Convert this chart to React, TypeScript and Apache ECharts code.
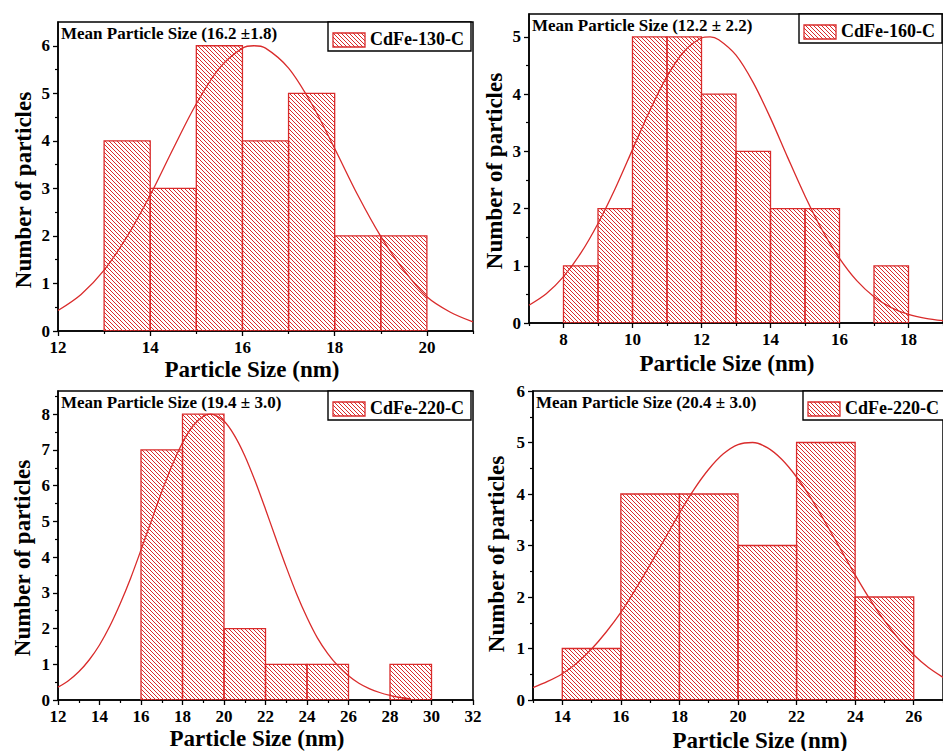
import React, { useEffect, useRef } from "react";
import * as echarts from "echarts";

const RED = "#d92b2b";
const FONT = '"Liberation Serif", "Times New Roman", serif';

// ---- CdFe-130-C ----
const edges130 = [13, 14, 15, 16, 17, 18, 19, 20];
const counts130 = [4, 3, 6, 4, 5, 2, 2];
const fitX130 = [12, 12.5, 13, 13.5, 14, 14.5, 15, 15.5, 16, 16.25, 16.5, 17, 17.5, 18, 18.5, 19, 19.5, 20, 20.5, 21];
const fitY130 = [0.43, 0.77, 1.28, 1.99, 2.86, 3.84, 4.78, 5.53, 5.95, 6.0, 5.95, 5.53, 4.78, 3.84, 2.86, 1.99, 1.28, 0.72, 0.4, 0.19];
const xTicks130 = [12, 14, 16, 18, 20];
const xMinor130 = [13, 15, 17, 19, 21];
const yTicks130 = [0, 1, 2, 3, 4, 5, 6];
const yMinor130 = [0.5, 1.5, 2.5, 3.5, 4.5, 5.5];

// ---- CdFe-160-C ----
const edges160 = [8, 9, 10, 11, 12, 13, 14, 15, 16, 17, 18];
const counts160 = [1, 2, 5, 5, 4, 3, 2, 2, 0, 1];
const fitX160 = [7, 7.5, 8, 8.5, 9, 9.5, 10, 10.5, 11, 11.5, 12, 12.25, 12.5, 13, 13.5, 14, 14.5, 15, 15.5, 16, 16.5, 17, 17.5, 18, 18.5, 19];
const fitY160 = [0.31, 0.51, 0.81, 1.22, 1.74, 2.35, 3.03, 3.71, 4.31, 4.75, 4.98, 5.0, 4.95, 4.68, 4.2, 3.58, 2.89, 2.22, 1.62, 1.13, 0.74, 0.46, 0.27, 0.15, 0.08, 0.04];
const xTicks160 = [8, 10, 12, 14, 16, 18];
const xMinor160 = [7, 9, 11, 13, 15, 17, 19];
const yTicks160 = [0, 1, 2, 3, 4, 5];
const yMinor160 = [0.5, 1.5, 2.5, 3.5, 4.5];

// ---- CdFe-220-C (first sample) ----
const edges220a = [16, 18, 20, 22, 24, 26, 28, 30];
const counts220a = [7, 8, 2, 1, 1, 0, 1];
const fitX220a = [12, 12.5, 13, 13.5, 14, 14.5, 15, 15.5, 16, 16.5, 17, 17.5, 18, 18.5, 19, 19.35, 19.5, 20, 20.5, 21, 21.5, 22, 22.5, 23, 23.5, 24, 24.5, 25, 25.5, 26, 26.5, 27, 27.5, 28, 28.5, 29];
const fitY220a = [0.36, 0.54, 0.79, 1.12, 1.54, 2.07, 2.7, 3.41, 4.2, 5.02, 5.83, 6.57, 7.2, 7.67, 7.94, 8.0, 7.99, 7.81, 7.41, 6.84, 6.13, 5.34, 4.52, 3.72, 2.97, 2.31, 1.74, 1.3, 0.95, 0.68, 0.47, 0.32, 0.21, 0.13, 0.07, 0.03];
const xTicks220a = [12, 14, 16, 18, 20, 22, 24, 26, 28, 30, 32];
const xMinor220a = [13, 15, 17, 19, 21, 23, 25, 27, 29, 31];
const yTicks220a = [0, 1, 2, 3, 4, 5, 6, 7, 8];
const yMinor220a = [0.5, 1.5, 2.5, 3.5, 4.5, 5.5, 6.5, 7.5, 8.5];

// ---- CdFe-220-C (second sample) ----
const edges220b = [14, 16, 18, 20, 22, 24, 26];
const counts220b = [1, 4, 4, 3, 5, 2];
const fitX220b = [13, 13.5, 14, 14.5, 15, 15.5, 16, 16.5, 17, 17.5, 18, 18.5, 19, 19.5, 20, 20.5, 21, 21.5, 22, 22.5, 23, 23.5, 24, 24.5, 25, 25.5, 26, 26.5, 27];
const fitY220b = [0.24, 0.36, 0.51, 0.72, 0.99, 1.32, 1.7, 2.15, 2.63, 3.13, 3.63, 4.09, 4.48, 4.78, 4.96, 5.0, 4.9, 4.67, 4.33, 3.91, 3.43, 2.93, 2.43, 1.96, 1.54, 1.18, 0.88, 0.63, 0.44];
const xTicks220b = [14, 16, 18, 20, 22, 24, 26];
const xMinor220b = [13, 15, 17, 19, 21, 23, 25, 27];
const yTicks220b = [0, 1, 2, 3, 4, 5, 6];
const yMinor220b = [0.5, 1.5, 2.5, 3.5, 4.5, 5.5];

const meanLabels = [
  "Mean Particle Size (16.2 \u00b11.8)",
  "Mean Particle Size (12.2 \u00b1 2.2)",
  "Mean Particle Size (19.4 \u00b1 3.0)",
  "Mean Particle Size (20.4 \u00b1 3.0)",
];
const sampleNames = ["CdFe-130-C", "CdFe-160-C", "CdFe-220-C", "CdFe-220-C"];
const xTitle = "Particle Size (nm)";
const yTitle = "Number of particles";

// diagonal "\" hatching clipped to a rectangle (pixel coordinates)
function hatch(x0: number, y0: number, x1: number, y1: number, step: number) {
  const out: any[] = [];
  const start = Math.ceil((x0 - y1) / step) * step;
  for (let c = start; c <= x1 - y0; c += step) {
    const ya = Math.max(y0, x0 - c);
    const yb = Math.min(y1, x1 - c);
    if (yb - ya > 0.3) {
      out.push({
        type: "line",
        silent: true,
        shape: { x1: ya + c, y1: ya, x2: yb + c, y2: yb },
        style: { stroke: RED, lineWidth: 1 },
      });
    }
  }
  return out;
}

const panels = [
  {
    edges: edges130, counts: counts130, fitX: fitX130, fitY: fitY130,
    xMin: 12, xMax: 21, yMax: 6.5,
    xTicks: xTicks130, xMinor: xMinor130, yTicks: yTicks130, yMinor: yMinor130,
    grid: { left: 58, top: 22, width: 415, height: 309 },
    xTitlePos: [252, 369], yTitlePos: [23, 190],
  },
  {
    edges: edges160, counts: counts160, fitX: fitX160, fitY: fitY160,
    xMin: 7, xMax: 19, yMax: 5.4,
    xTicks: xTicks160, xMinor: xMinor160, yTicks: yTicks160, yMinor: yMinor160,
    grid: { left: 529, top: 14, width: 415, height: 309 },
    xTitlePos: [727, 363], yTitlePos: [494, 171],
  },
  {
    edges: edges220a, counts: counts220a, fitX: fitX220a, fitY: fitY220a,
    xMin: 12, xMax: 32, yMax: 8.65,
    xTicks: xTicks220a, xMinor: xMinor220a, yTicks: yTicks220a, yMinor: yMinor220a,
    grid: { left: 58, top: 391, width: 415, height: 309 },
    xTitlePos: [257, 738], yTitlePos: [22, 558],
  },
  {
    edges: edges220b, counts: counts220b, fitX: fitX220b, fitY: fitY220b,
    xMin: 13, xMax: 27, yMax: 6,
    xTicks: xTicks220b, xMinor: xMinor220b, yTicks: yTicks220b, yMinor: yMinor220b,
    grid: { left: 533, top: 391, width: 415, height: 309 },
    xTitlePos: [760, 740], yTitlePos: [496, 554],
  },
];

function buildOption() {
  const grids: any[] = [];
  const xAxes: any[] = [];
  const yAxes: any[] = [];
  const series: any[] = [];
  const graphics: any[] = [];

  const labelStyle = { fontFamily: FONT, fontWeight: "bold", fontSize: 17, color: "#000" };

  panels.forEach((p, i) => {
    grids.push({
      ...p.grid,
      show: true,
      borderColor: "#000",
      borderWidth: 1.5,
      backgroundColor: "transparent",
    });

    // main x axis + overlay carrying the minor ticks
    xAxes.push({
      type: "value", gridIndex: i, min: p.xMin, max: p.xMax, position: "bottom",
      axisLine: { show: true, lineStyle: { color: "#000", width: 1.5 } },
      axisTick: { show: true, inside: false, length: 5, customValues: p.xTicks, lineStyle: { color: "#000", width: 1.3 } },
      axisLabel: { ...labelStyle, margin: 8, customValues: p.xTicks },
      splitLine: { show: false },
    });
    xAxes.push({
      type: "value", gridIndex: i, min: p.xMin, max: p.xMax, position: "bottom",
      axisLine: { show: false },
      axisTick: { show: true, inside: false, length: 3, customValues: p.xMinor, lineStyle: { color: "#000", width: 1.2 } },
      axisLabel: { show: false },
      splitLine: { show: false },
    });
    yAxes.push({
      type: "value", gridIndex: i, min: 0, max: p.yMax, position: "left",
      axisLine: { show: true, lineStyle: { color: "#000", width: 1.5 } },
      axisTick: { show: true, inside: false, length: 5, customValues: p.yTicks, lineStyle: { color: "#000", width: 1.3 } },
      axisLabel: { ...labelStyle, margin: 8, customValues: p.yTicks },
      splitLine: { show: false },
    });
    yAxes.push({
      type: "value", gridIndex: i, min: 0, max: p.yMax, position: "left",
      axisLine: { show: false },
      axisTick: { show: true, inside: false, length: 3, customValues: p.yMinor, lineStyle: { color: "#000", width: 1.2 } },
      axisLabel: { show: false },
      splitLine: { show: false },
    });

    const binData = p.counts.map((c, k) => [p.edges[k], p.edges[k + 1], c]);
    series.push({
      type: "custom",
      xAxisIndex: i * 2,
      yAxisIndex: i * 2,
      data: binData,
      encode: { x: [0, 1], y: 2 },
      clip: true,
      z: 2,
      renderItem: (_params: any, api: any) => {
        const lo = api.value(0);
        const hi = api.value(1);
        const n = api.value(2);
        if (!n) return { type: "group", children: [] };
        const tl = api.coord([lo, n]);
        const br = api.coord([hi, 0]);
        const x0 = tl[0], y0 = tl[1], x1 = br[0], y1 = br[1];
        return {
          type: "group",
          children: [
            ...hatch(x0, y0, x1, y1, 4),
            {
              type: "rect",
              shape: { x: x0, y: y0, width: x1 - x0, height: y1 - y0 },
              style: { fill: "none", stroke: RED, lineWidth: 1.3 },
            },
          ],
        };
      },
    });

    series.push({
      type: "line",
      xAxisIndex: i * 2,
      yAxisIndex: i * 2,
      data: p.fitX.map((x, k) => [x, p.fitY[k]]),
      smooth: 0.3,
      showSymbol: false,
      symbol: "none",
      clip: true,
      z: 3,
      lineStyle: { color: RED, width: 1.3 },
    });

    const gl = p.grid.left, gt = p.grid.top, gr = p.grid.left + p.grid.width;

    // mean size annotation
    graphics.push({
      type: "text",
      x: gl + 3,
      y: gt + 11,
      z: 10,
      style: {
        text: meanLabels[i],
        fontFamily: FONT, fontWeight: "bold", fontSize: 17, fill: "#000",
        textAlign: "left", align: "left", textVerticalAlign: "middle", verticalAlign: "middle",
      },
    });

    // legend box with hatched swatch
    const bx = gr - 145, by = gt;
    const sx0 = bx + 5, sy0 = by + 11, sx1 = sx0 + 32, sy1 = sy0 + 14;
    graphics.push({
      type: "group",
      z: 10,
      children: [
        { type: "rect", shape: { x: bx, y: by, width: 143, height: 29 }, style: { fill: "#fff", stroke: "#000", lineWidth: 1.4 } },
        ...hatch(sx0, sy0, sx1, sy1, 4),
        { type: "rect", shape: { x: sx0, y: sy0, width: 32, height: 14 }, style: { fill: "none", stroke: RED, lineWidth: 1.3 } },
        {
          type: "text",
          x: sx1 + 5,
          y: by + 17,
          style: {
            text: sampleNames[i],
            fontFamily: FONT, fontWeight: "bold", fontSize: 18, fill: "#000",
            textAlign: "left", align: "left", textVerticalAlign: "middle", verticalAlign: "middle",
          },
        },
      ],
    });

    // axis titles
    graphics.push({
      type: "text",
      x: p.xTitlePos[0],
      y: p.xTitlePos[1],
      z: 10,
      style: {
        text: xTitle,
        fontFamily: FONT, fontWeight: "bold", fontSize: 23, fill: "#000",
        textAlign: "center", align: "center", textVerticalAlign: "middle", verticalAlign: "middle",
      },
    });
    graphics.push({
      type: "text",
      x: p.yTitlePos[0],
      y: p.yTitlePos[1],
      rotation: Math.PI / 2,
      z: 10,
      style: {
        text: yTitle,
        fontFamily: FONT, fontWeight: "bold", fontSize: 23, fill: "#000",
        textAlign: "center", align: "center", textVerticalAlign: "middle", verticalAlign: "middle",
      },
    });
  });

  return {
    animation: false,
    backgroundColor: "#fff",
    grid: grids,
    xAxis: xAxes,
    yAxis: yAxes,
    series,
    graphic: graphics,
  };
}

export default function App() {
  const ref = useRef<HTMLDivElement>(null);
  useEffect(() => {
    if (!ref.current) return;
    const chart = echarts.init(ref.current, undefined, { renderer: "svg" });
    chart.setOption(buildOption() as any);
    return () => chart.dispose();
  }, []);
  return (
    <div
      ref={ref}
      style={{ position: "fixed", left: 0, top: 0, width: 943, height: 751, background: "#fff" }}
    />
  );
}
